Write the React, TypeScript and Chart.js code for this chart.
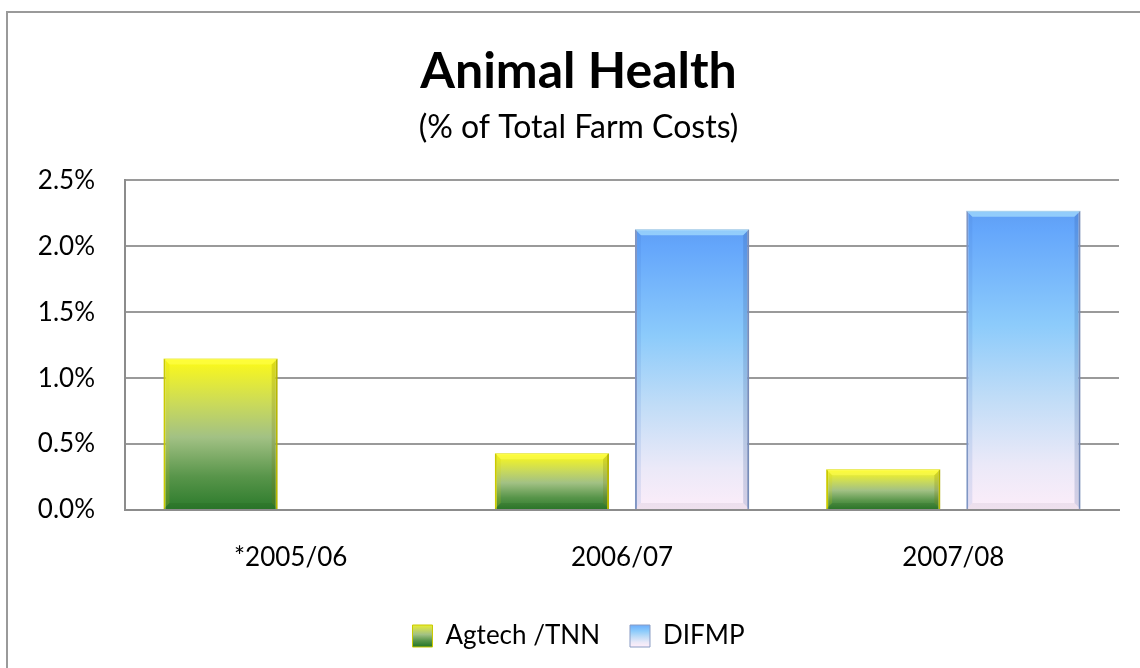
import React, { useEffect, useRef } from "react";
import { Chart, registerables } from "chart.js";

Chart.register(...registerables);

const categories = ["*2005/06", "2006/07", "2007/08"];
const seriesNames = ["Agtech /TNN", "DIFMP"];
const agtechValues: (number | null)[] = [1.15, 0.43, 0.31];
const difmpValues: (number | null)[] = [null, 2.13, 2.27];
const yMin = 0;
const yMax = 2.5;
const yStep = 0.5;

const FONT = "Lato, 'Open Sans', sans-serif";

const agtechStops: [number, string][] = [
  [0, "#ffff10"],
  [0.06, "#f4f424"],
  [0.3, "#cada5a"],
  [0.52, "#a2c184"],
  [0.78, "#58954a"],
  [1, "#2b7a2b"],
];
const difmpStops: [number, string][] = [
  [0, "#5f9ef4"],
  [0.06, "#64a6fb"],
  [0.38, "#8ccbfb"],
  [0.62, "#bfdcf7"],
  [0.85, "#ebe9f8"],
  [1, "#fcedf9"],
];

function gradFor(stops: [number, string][]) {
  return (ctx: any) => {
    const chart = ctx.chart;
    const area = chart.chartArea;
    if (!area || ctx.type !== "data") return stops[3][1];
    const v = ctx.raw;
    if (v == null) return stops[3][1];
    const ys = chart.scales.y;
    const top = ys.getPixelForValue(v);
    const bottom = ys.getPixelForValue(0);
    const g = chart.ctx.createLinearGradient(0, top, 0, bottom);
    stops.forEach(([o, c]) => g.addColorStop(o, c));
    return g;
  };
}

function legendGrad(chart: any, stops: [number, string][]) {
  const h = chart.height;
  const g = chart.ctx.createLinearGradient(0, h - 46, 0, h - 22);
  stops.forEach(([o, c]) => g.addColorStop(o, c));
  return g;
}

const framePlugin = {
  id: "frame",
  beforeDraw(chart: any) {
    const c = chart.ctx;
    c.save();
    c.fillStyle = "#ffffff";
    c.fillRect(0, 0, chart.width, chart.height);
    c.strokeStyle = "#9a9a9a";
    c.lineWidth = 2;
    c.beginPath();
    c.moveTo(7, chart.height + 2);
    c.lineTo(7, 12);
    c.lineTo(chart.width + 2, 12);
    c.stroke();
    c.restore();
  },
};

const bevelPlugin = {
  id: "bevel",
  afterDatasetsDraw(chart: any) {
    const c = chart.ctx;
    c.save();
    chart.data.datasets.forEach((ds: any, di: number) => {
      const meta = chart.getDatasetMeta(di);
      meta.data.forEach((el: any, i: number) => {
        if (ds.data[i] == null) return;
        const { x, y, base, width } = el.getProps(["x", "y", "base", "width"], true);
        const l = x - width / 2;
        const r = x + width / 2;
        const h = base - y;
        const b = Math.min(6, h / 4);
        c.fillStyle = di === 0 ? "rgba(255,255,90,0.5)" : "rgba(180,235,255,0.6)";
        c.beginPath();
        c.moveTo(l, y);
        c.lineTo(r, y);
        c.lineTo(r - b, y + b);
        c.lineTo(l + b, y + b);
        c.closePath();
        c.fill();
        c.fillStyle = di === 0 ? "rgba(210,210,0,0.18)" : "rgba(60,110,200,0.12)";
        c.beginPath();
        c.moveTo(l, y);
        c.lineTo(l + b, y + b);
        c.lineTo(l + b, base - b);
        c.lineTo(l, base);
        c.closePath();
        c.fill();
        c.fillStyle = di === 0 ? "rgba(120,120,0,0.22)" : "rgba(40,70,140,0.18)";
        c.beginPath();
        c.moveTo(r, y);
        c.lineTo(r - b, y + b);
        c.lineTo(r - b, base - b);
        c.lineTo(r, base);
        c.closePath();
        c.fill();
        c.fillStyle = di === 0 ? "rgba(30,80,20,0.15)" : "rgba(150,130,160,0.12)";
        c.beginPath();
        c.moveTo(l, base);
        c.lineTo(l + b, base - b);
        c.lineTo(r - b, base - b);
        c.lineTo(r, base);
        c.closePath();
        c.fill();
      });
    });
    c.restore();
  },
};

export default function App() {
  const ref = useRef<HTMLCanvasElement | null>(null);

  useEffect(() => {
    if (!ref.current) return;
    const chart = new Chart(ref.current, {
      type: "bar",
      data: {
        labels: categories,
        datasets: [
          {
            label: seriesNames[0],
            data: agtechValues,
            backgroundColor: gradFor(agtechStops),
            borderColor: "#c9c900",
            borderWidth: { left: 2, right: 2, top: 1, bottom: 0 },
            borderSkipped: false,
          },
          {
            label: seriesNames[1],
            data: difmpValues,
            backgroundColor: gradFor(difmpStops),
            borderColor: "#8a9cc4",
            borderWidth: { left: 2, right: 2, top: 1, bottom: 0 },
            borderSkipped: false,
          },
        ],
      },
      options: {
        animation: false,
        responsive: false,
        devicePixelRatio: 1,
        layout: { padding: { top: 8, left: 38, right: 21, bottom: 9 } },
        datasets: {
          bar: { categoryPercentage: 0.846, barPercentage: 0.815 },
        },
        scales: {
          x: {
            grid: { display: false, drawTicks: false },
            border: { display: true, color: "#8c8c8c", width: 2 },
            ticks: {
              color: "#000",
              font: { family: FONT, size: 26 },
              padding: 32,
            },
            afterFit: (s: any) => {
              s.height = 83;
            },
          },
          y: {
            min: yMin,
            max: yMax,
            grid: { color: "#9a9a9a", lineWidth: 2, drawTicks: false },
            border: { display: true, color: "#8c8c8c", width: 2 },
            ticks: {
              stepSize: yStep,
              color: "#000",
              font: { family: FONT, size: 26 },
              padding: 30,
              callback: (v: any) => Number(v).toFixed(1) + "%",
            },
            afterFit: (s: any) => {
              s.width = 87;
            },
          },
        },
        plugins: {
          title: {
            display: true,
            text: "Animal Health",
            color: "#000",
            font: { family: FONT, size: 50, weight: "bold" },
            padding: { top: 34, bottom: 0 },
          },
          subtitle: {
            display: true,
            text: "(% of Total Farm Costs)",
            color: "#000",
            font: { family: FONT, size: 32 },
            padding: { top: 6, bottom: 34 },
          },
          legend: {
            position: "bottom",
            labels: {
              color: "#000",
              font: { family: FONT, size: 26 },
              boxWidth: 20,
              boxHeight: 22,
              padding: 30,
              generateLabels: (ch: any) =>
                ch.data.datasets.map((ds: any, i: number) => ({
                  text: ds.label,
                  fillStyle: legendGrad(ch, i === 0 ? agtechStops : difmpStops),
                  strokeStyle: i === 0 ? "#c9c900" : "#8a9cc4",
                  lineWidth: 1,
                  hidden: false,
                  datasetIndex: i,
                  fontColor: "#000",
                })),
            },
          },
          tooltip: { enabled: false },
        },
      },
      plugins: [framePlugin, bevelPlugin],
    });
    return () => chart.destroy();
  }, []);

  return (
    <div style={{ position: "absolute", left: 0, top: 0, width: 1140, height: 668 }}>
      <canvas ref={ref} width={1140} height={668} style={{ display: "block" }} />
    </div>
  );
}
